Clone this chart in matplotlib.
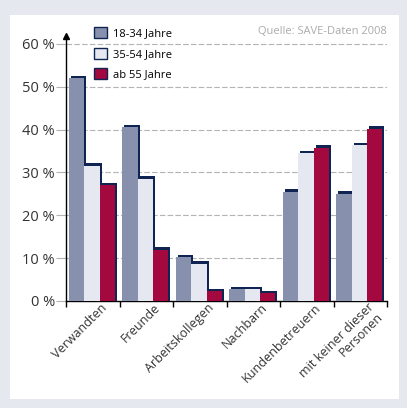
import numpy as np
import matplotlib
matplotlib.use('Agg')
import matplotlib.pyplot as plt
from matplotlib.patches import Patch, Rectangle
from matplotlib.transforms import ScaledTranslation

plt.rcParams['font.family'] = ['Open Sans', 'DejaVu Sans']

categories = ['Verwandten', 'Freunde', 'Arbeitskollegen', 'Nachbarn',
              'Kundenbetreuern', 'mit keiner dieser\nPersonen']
groups = ['18-34 Jahre', '35-54 Jahre', 'ab 55 Jahre']
v_18_34 = [52.0, 40.5, 10.2, 2.7, 25.5, 25.0]
v_35_54 = [31.5, 28.5, 8.7, 2.7, 34.5, 36.3]
v_ab_55 = [27.0, 12.0, 2.3, 1.8, 35.7, 40.2]
yticks = [0, 10, 20, 30, 40, 50, 60]

BG = '#e5e9ef'
NAVY = '#102454'
COLORS = ['#8791ad', '#e5e8f0', '#a3083e']

fig = plt.figure(figsize=(4.07, 4.08), dpi=100, facecolor=BG)
# white panel
fig.patches.append(Rectangle((10 / 407, 9 / 408), 389 / 407, 384 / 408,
                             transform=fig.transFigure, facecolor='white',
                             edgecolor='none', zorder=-5))

ax = fig.add_axes([66 / 407, 0.2623, 321 / 407, 0.649])
ax.set_facecolor('none')
ax.set_zorder(2)

x = np.arange(len(categories)) + 0.485
w = 0.286
dx, dy = 0.037, 0.6
for k, vals in enumerate([v_18_34, v_35_54, v_ab_55]):
    xs = x + (k - 1) * w
    ax.bar(xs + dx, np.array(vals) + dy, w, color=NAVY, zorder=2 + 2 * k, linewidth=0)
    ax.bar(xs, vals, w, color=COLORS[k], zorder=3 + 2 * k, linewidth=0)

ax.set_xlim(0, 6)
ax.set_ylim(0, 61.8)
ax.set_yticks(yticks)
ax.set_yticklabels([f'{t} %' for t in yticks], fontsize=10.5, color='#333333')
ax.yaxis.grid(True, color='#b4b4b4', linestyle=(0, (5, 2)), linewidth=0.8, zorder=0.5)
ax.set_axisbelow(True)
ax.tick_params(axis='y', length=7, color='#b4b4b4', width=0.8, pad=1)
ax.yaxis.get_major_ticks()[0].tick1line.set_color('black')

ax.set_xticks(range(7))
ax.set_xticklabels([])
ax.tick_params(axis='x', length=4, width=1, color='black', direction='out')

for s in ['top', 'right']:
    ax.spines[s].set_visible(False)
ax.spines['bottom'].set_linewidth(1)
ax.spines['left'].set_linewidth(1)
ax.plot(0, 1, marker='^', color='black', markersize=5, transform=ax.transAxes,
        clip_on=False, zorder=10)

for i, lab in enumerate(categories):
    tr = ax.transData + ScaledTranslation(8 / 100, 0 / 100, fig.dpi_scale_trans)
    ax.text(x[i], 0, lab, transform=tr, rotation=45, rotation_mode='anchor',
            ha='right', va='top', fontsize=9, color='#333333',
            multialignment='right', linespacing=1.0)

handles = [Patch(facecolor=c, edgecolor=NAVY, linewidth=1) for c in COLORS]
ax.legend(handles, groups, loc='upper left', bbox_to_anchor=(94 / 407, 381 / 408),
          bbox_transform=fig.transFigure, frameon=False, fontsize=8,
          handlelength=1.15, handleheight=1.15, handletextpad=0.6,
          labelspacing=0.75, borderpad=0, borderaxespad=0)

fig.text(387 / 407, 376 / 408, 'Quelle: SAVE-Daten 2008', ha='right', va='center',
         fontsize=8, color='#aaaaaa')

fig.savefig('out.png', dpi=100, facecolor=BG)
